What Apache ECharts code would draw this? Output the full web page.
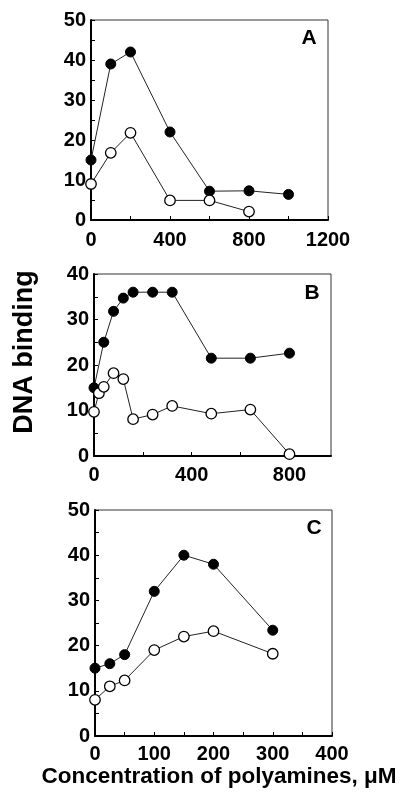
<!DOCTYPE html>
<html><head><meta charset="utf-8">
<script src="https://cdn.jsdelivr.net/npm/echarts@6/dist/echarts.min.js"></script>
<style>html,body{margin:0;padding:0;background:#fff}#c{width:403px;height:792px}</style>
</head><body><div id="c"></div>
<script>
// Panel A
const aFilled = [[0,15],[100,39],[200,42],[400,22],[600,7.2],[800,7.3],[1000,6.4]];
const aOpen   = [[0,9],[100,16.8],[200,21.8],[400,4.9],[600,4.9],[800,2.1]];
// Panel B
const bFilled = [[0,15],[40,25],[80,31.8],[120,34.7],[160,36],[240,36],[320,36],[480,21.5],[640,21.5],[800,22.6]];
const bOpen   = [[0,9.7],[20,13.8],[40,15.2],[80,18.2],[120,16.9],[160,8.1],[240,9.1],[320,11],[480,9.3],[640,10.2],[800,0.4]];
// Panel C
const cFilled = [[0,15],[25,16],[50,18],[100,32],[150,40],[200,38],[300,23.4]];
const cOpen   = [[0,8],[25,11],[50,12.3],[100,19],[150,22],[200,23.2],[300,18.2]];
// Axis specs
const xMax = [1200, 970, 400];
const xInterval = [200, 200, 50];
const xLabelStep = [400, 400, 100];
const yMax = [50, 40, 50];
const yLabelStep = 10;
const panelLetters = ['A', 'B', 'C'];
const yTitle = 'DNA binding';
const xTitle = 'Concentration of polyamines, \u03bcM';

const FONT = "'Liberation Sans', Arial, sans-serif";
const grids = [
  {left: 91, top: 20, width: 237, height: 200},
  {left: 94, top: 274, width: 237, height: 182},
  {left: 95, top: 510, width: 237, height: 226}
].map(g => Object.assign(g, {show: true, borderColor: '#333', borderWidth: 1, backgroundColor: 'transparent'}));
const xMargins = [10, 9, 8];

const xAxes = [0,1,2].map(i => ({
  gridIndex: i, type: 'value', min: 0, max: xMax[i], interval: xInterval[i],
  axisLine: {show: true, lineStyle: {color: '#000', width: 2}},
  axisTick: {show: true, inside: true, length: 4, lineStyle: {color: '#000', width: 1}},
  splitLine: {show: false},
  axisLabel: {
    color: '#000', fontFamily: FONT, fontWeight: 'bold', fontSize: 20, margin: xMargins[i],
    showMaxLabel: i !== 1,
    formatter: v => (v % xLabelStep[i] === 0 ? String(v) : '')
  }
}));
const yAxes = [0,1,2].map(i => ({
  gridIndex: i, type: 'value', min: 0, max: yMax[i], interval: 5,
  axisLine: {show: true, lineStyle: {color: '#000', width: 2}},
  axisTick: {show: true, inside: true, length: 4, lineStyle: {color: '#000', width: 1}},
  splitLine: {show: false},
  axisLabel: {
    color: '#000', fontFamily: FONT, fontWeight: 'bold', fontSize: 20, margin: 5,
    formatter: v => (v % yLabelStep === 0 ? String(v) : '')
  }
}));

function filled(data, i) {
  return {type: 'line', xAxisIndex: i, yAxisIndex: i, data: data, symbol: 'circle', symbolSize: 10,
    lineStyle: {color: '#222', width: 1}, itemStyle: {color: '#000', borderColor: '#000', borderWidth: 1},
    z: 3, animation: false};
}
function open(data, i) {
  return {type: 'line', xAxisIndex: i, yAxisIndex: i, data: data, symbol: 'circle', symbolSize: 10.5,
    lineStyle: {color: '#222', width: 1}, itemStyle: {color: '#fff', borderColor: '#000', borderWidth: 1.3},
    z: 4, animation: false};
}

const letterPos = [[309, 38], [312, 293], [314, 528]];
const graphic = panelLetters.map((t, i) => ({
  type: 'text', x: letterPos[i][0], y: letterPos[i][1],
  style: {text: t, font: "bold 21px " + FONT, fill: '#000', textAlign: 'center', textVerticalAlign: 'middle'}
}));
graphic.push({
  type: 'text', x: 25, y: 352, rotation: Math.PI / 2,
  style: {text: yTitle, font: "bold 27px " + FONT, fill: '#000', textAlign: 'center', textVerticalAlign: 'middle'}
});
graphic.push({
  type: 'text', x: 219, y: 777,
  style: {text: xTitle, font: "bold 22.5px " + FONT, fill: '#000', textAlign: 'center', textVerticalAlign: 'middle'}
});

const chart = echarts.init(document.getElementById('c'), null, {renderer: 'canvas'});
chart.setOption({
  animation: false,
  grid: grids, xAxis: xAxes, yAxis: yAxes,
  series: [filled(aFilled,0), open(aOpen,0), filled(bFilled,1), open(bOpen,1), filled(cFilled,2), open(cOpen,2)],
  graphic: graphic
});
</script></body></html>
